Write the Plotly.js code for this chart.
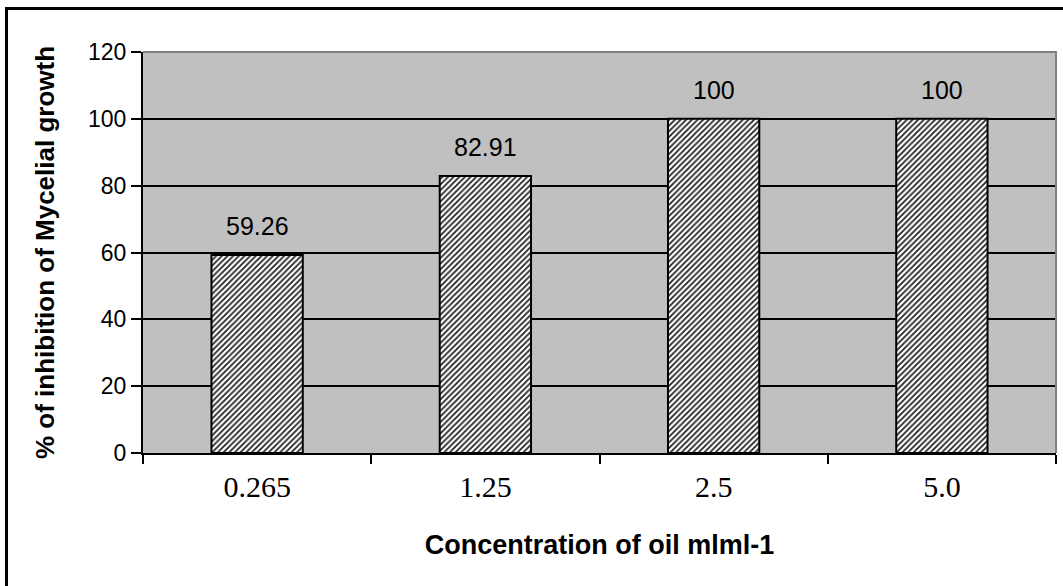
<!DOCTYPE html>
<html>
<head>
<meta charset="utf-8">
<script src="https://cdn.plot.ly/plotly-3.0.1.min.js"></script>
<style>
  html, body { margin: 0; padding: 0; background: #ffffff; }
  #wrap { position: relative; width: 1063px; height: 586px; overflow: hidden; }
  #chart { width: 1063px; height: 586px; }
  #frame { position: absolute; left: 5px; top: 7px; width: 1200px; height: 800px;
           border: 3px solid #000; pointer-events: none; box-sizing: border-box; }
</style>
</head>
<body>
<div id="wrap">
  <div id="chart"></div>
  <div id="frame"></div>
</div>
<script>
const categories = ["0.265", "1.25", "2.5", "5.0"];
const values = [59.26, 82.91, 100, 100];
const valueLabels = ["59.26", "82.91", "100", "100"];
const yTicks = [0, 20, 40, 60, 80, 100, 120];

const trace = {
  type: "bar",
  x: categories,
  y: values,
  width: 0.4,
  marker: {
    color: "#ffffff",
    line: { color: "#000000", width: 2 },
    pattern: { shape: "/", fgcolor: "#222222", bgcolor: "#ffffff", size: 4, solidity: 0.45 }
  },
  hoverinfo: "skip"
};

const annotations = categories.map((c, i) => ({
  x: i, y: values[i], text: valueLabels[i], showarrow: false,
  xref: "x", yref: "y",
  yanchor: "bottom", yshift: 13,
  font: { family: "Liberation Sans, Arial, sans-serif", size: 25, color: "#000" }
}));

const layout = {
  width: 1063, height: 586,
  margin: { l: 143, r: 7, t: 52, b: 133 },
  paper_bgcolor: "rgba(0,0,0,0)",
  plot_bgcolor: "#c0c0c0",
  showlegend: false,
  xaxis: {
    type: "category",
    range: [-0.5, categories.length - 0.5],
    autorange: false,
    showline: true, linecolor: "#000", linewidth: 2,
    ticks: "outside", tickcolor: "#000", tickwidth: 2, ticklen: 9,
    tickson: "boundaries",
    ticklabelstandoff: 6,
    showgrid: false,
    tickfont: { family: "Liberation Serif, Times New Roman, serif", size: 30, color: "#000" },
    title: { text: "Concentration of oil mlml-1", standoff: 33,
             font: { family: "Liberation Sans, Arial, sans-serif", size: 27, color: "#000", weight: "bold" } }
  },
  yaxis: {
    range: [0, 120],
    autorange: false,
    tickvals: yTicks,
    ticktext: yTicks.map(String),
    showline: true, linecolor: "#000", linewidth: 2,
    ticks: "outside", tickcolor: "#000", tickwidth: 2, ticklen: 10,
    showgrid: true, gridcolor: "#000", gridwidth: 2,
    zeroline: false,
    tickfont: { family: "Liberation Sans, Arial, sans-serif", size: 23, color: "#000" },
    title: { text: "% of inhibition of Mycelial growth", standoff: 26,
             font: { family: "Liberation Sans, Arial, sans-serif", size: 26, color: "#000", weight: "bold" } }
  },
  shapes: [
    { type: "path", xref: "paper", yref: "paper", layer: "above",
      path: "M 0 1 L 1 1 L 1 0", line: { color: "#808080", width: 2 } }
  ],
  annotations: annotations
};

Plotly.newPlot("chart", [trace], layout, { displayModeBar: false, staticPlot: true });
</script>
</body>
</html>
